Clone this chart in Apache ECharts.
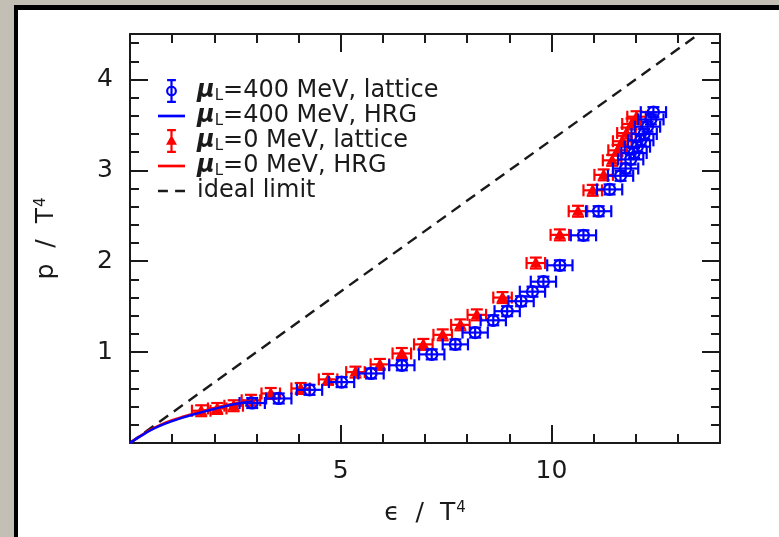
<!DOCTYPE html>
<html><head><meta charset="utf-8">
<script src="https://cdn.jsdelivr.net/npm/echarts@6/dist/echarts.min.js"></script>
<style>
html,body{margin:0;padding:0;background:#c3bfb4;overflow:hidden;}
#panel{position:absolute;left:14px;top:5px;width:780px;height:527px;background:#fff;border-left:4px solid #000;border-top:5px solid #000;border-bottom:2px solid #555;}
#c{position:absolute;left:0;top:0;width:779px;height:537px;}
</style>
</head><body><div id="panel"></div><div id="c"></div>
<script>
// mu_L = 400 MeV lattice
const blueEps = [2.90, 3.53, 4.26, 5.02, 5.72, 6.45, 7.16, 7.72, 8.19, 8.62, 8.95, 9.28, 9.55, 9.81, 10.20, 10.76, 11.12, 11.38, 11.64, 11.76, 11.88, 11.96, 12.04, 12.12, 12.20, 12.28, 12.36, 12.42];
const blueP   = [0.44, 0.49, 0.585, 0.67, 0.765, 0.855, 0.975, 1.085, 1.215, 1.35, 1.45, 1.56, 1.665, 1.775, 1.955, 2.285, 2.55, 2.79, 2.94, 3.02, 3.12, 3.19, 3.26, 3.33, 3.40, 3.48, 3.56, 3.64];
const blueEpsErr = 0.30;
const bluePErr = 0.055;
// mu_L = 0 lattice
const redEps = [1.69, 2.07, 2.46, 2.87, 3.34, 4.05, 4.70, 5.35, 5.93, 6.45, 6.96, 7.42, 7.84, 8.23, 8.84, 9.63, 10.20, 10.63, 10.98, 11.24, 11.44, 11.57, 11.68, 11.78, 11.90, 12.02];
const redP   = [0.355, 0.38, 0.41, 0.47, 0.545, 0.60, 0.70, 0.78, 0.865, 0.985, 1.085, 1.19, 1.30, 1.41, 1.60, 1.98, 2.29, 2.55, 2.78, 2.95, 3.11, 3.22, 3.32, 3.41, 3.51, 3.59];
const redEpsErr = 0.22;
const redPErr = 0.06;
// HRG curves
const hrgEps  = [0, 0.25, 0.5, 0.75, 1.0, 1.25, 1.5, 1.75, 2.0, 2.25, 2.5, 2.75, 2.9];
const blueHrgP = [0, 0.075, 0.143, 0.197, 0.24, 0.279, 0.313, 0.345, 0.375, 0.403, 0.428, 0.448, 0.458];
const redHrgP  = [0, 0.078, 0.149, 0.205, 0.25, 0.289, 0.323, 0.355, 0.385, 0.412, 0.436, 0.455, 0.465];
// ideal limit p = eps/3
const idealEps = [0, 13.5];
const idealP = [0, 4.5];
// ticks
const xTickLabels = [5, 10];
const yTickLabels = [1, 2, 3, 4];

const BLUE = '#0000ff', RED = '#ff0000', INK = '#1a1a1a';
const FONT = 'DejaVu Sans';
const FS = 25;

function errRender(kind, color) {
  return function (params, api) {
    const x = api.value(0), y = api.value(1), ex = api.value(2), ey = api.value(3);
    const c = api.coord([x, y]);
    const l = api.coord([x - ex, y]), r = api.coord([x + ex, y]);
    const t = api.coord([x, y + ey]), b = api.coord([x, y - ey]);
    const cap = 6;
    const st = () => ({ stroke: color, lineWidth: 2.2, fill: null });
    const ch = [
      { type: 'line', shape: { x1: l[0], y1: l[1], x2: r[0], y2: r[1] }, style: st() },
      { type: 'line', shape: { x1: l[0], y1: l[1] - cap, x2: l[0], y2: l[1] + cap }, style: st() },
      { type: 'line', shape: { x1: r[0], y1: r[1] - cap, x2: r[0], y2: r[1] + cap }, style: st() },
      { type: 'line', shape: { x1: t[0], y1: t[1], x2: b[0], y2: b[1] }, style: st() },
      { type: 'line', shape: { x1: t[0] - cap, y1: t[1], x2: t[0] + cap, y2: t[1] }, style: st() },
      { type: 'line', shape: { x1: b[0] - cap, y1: b[1], x2: b[0] + cap, y2: b[1] }, style: st() }
    ];
    if (kind === 'circle') {
      ch.push({ type: 'circle', shape: { cx: c[0], cy: c[1], r: 5.5 }, style: st() });
    } else {
      ch.push({ type: 'polygon', shape: { points: [[c[0], c[1] - 6.5], [c[0] - 6, c[1] + 4.5], [c[0] + 6, c[1] + 4.5]] }, style: { fill: color } });
    }
    return { type: 'group', children: ch };
  };
}

const circIcon = 'path://M4,0 H20 V4 H4 Z M4,40 H20 V44 H4 Z M10,0 H14 V44 H10 Z M22,22 A10,10 0 1 1 2,22 A10,10 0 1 1 22,22 Z M18,22 A6,6 0 1 0 6,22 A6,6 0 1 0 18,22 Z';
const triIcon = 'path://M4,0 H20 V4 H4 Z M4,40 H20 V44 H4 Z M10,0 H14 V44 H10 Z M12,11 L22,29 L2,29 Z';
const lineIcon = 'path://M0,0 H30 V3 H0 Z';
const dashIcon = 'path://M0,0 H11 V3 H0 Z M19,0 H30 V3 H19 Z';

const names = { bl: 'mu400lat', bh: 'mu400hrg', rl: 'mu0lat', rh: 'mu0hrg', id: 'ideal' };
const legendText = {
  mu400lat: '{sp|}{mu|μ}{sub|L}{t|=400 MeV, lattice}',
  mu400hrg: '{sp|}{mu|μ}{sub|L}{t|=400 MeV, HRG}',
  mu0lat: '{sp|}{mu|μ}{sub|L}{t|=0 MeV, lattice}',
  mu0hrg: '{sp|}{mu|μ}{sub|L}{t|=0 MeV, HRG}',
  ideal: '{sp|}{t|ideal limit}'
};

const axisLineStyle = { color: INK, width: 2 };
const gridRect = { left: 130, right: 59, top: 34, bottom: 94 };
const nameRich = {
  e: { fontFamily: FONT, fontSize: FS, color: INK, lineHeight: 28 },
  t: { fontFamily: FONT, fontSize: FS, color: INK, lineHeight: 28 },
  sup: { fontFamily: FONT, fontSize: 15, color: INK, lineHeight: 15, verticalAlign: 'top', padding: [2, 0, 0, 1] }
};

function xAx(gridIndex, pos, major) {
  return {
    type: 'value', gridIndex, position: pos, min: 0, max: 14, interval: major ? 5 : 1,
    axisLine: { show: major, onZero: false, lineStyle: axisLineStyle },
    axisTick: { show: true, inside: true, length: major ? 18 : 9, lineStyle: { color: INK, width: 2 } },
    axisLabel: {
      show: major && pos === 'bottom', margin: 16,
      fontFamily: FONT, fontSize: FS, color: INK,
      formatter: v => (xTickLabels.indexOf(v) >= 0 ? String(v) : '')
    },
    splitLine: { show: false },
    name: (major && pos === 'bottom') ? '{e|ϵ}{t|  /  T}{sup|4}' : '',
    nameLocation: 'middle', nameGap: 56,
    nameTextStyle: { fontFamily: FONT, fontSize: FS, color: INK, rich: nameRich }
  };
}
function yAx(gridIndex, pos, major) {
  return {
    type: 'value', gridIndex, position: pos, min: 0, max: 4.5, interval: major ? 1 : 0.2,
    axisLine: { show: major, onZero: false, lineStyle: axisLineStyle },
    axisTick: { show: true, inside: true, length: major ? 18 : 9, lineStyle: { color: INK, width: 2 } },
    axisLabel: {
      show: major && pos === 'left', margin: 17,
      fontFamily: FONT, fontSize: FS, color: INK,
      formatter: v => (yTickLabels.indexOf(v) >= 0 ? String(v) : '')
    },
    splitLine: { show: false },
    name: (major && pos === 'left') ? '{t|p  /  T}{sup|4}' : '',
    nameLocation: 'middle', nameGap: 70,
    nameTextStyle: { fontFamily: FONT, fontSize: FS, color: INK, rich: nameRich }
  };
}

const chart = echarts.init(document.getElementById('c'), null, { renderer: 'canvas' });
chart.setOption({
  animation: false,
  backgroundColor: 'transparent',
  grid: [Object.assign({}, gridRect), Object.assign({}, gridRect)],
  xAxis: [xAx(0, 'bottom', true), xAx(0, 'top', true), xAx(1, 'bottom', false), xAx(1, 'top', false)],
  yAxis: [yAx(0, 'left', true), yAx(0, 'right', true), yAx(1, 'left', false), yAx(1, 'right', false)],
  legend: {
    orient: 'vertical', left: 158, top: 79, padding: 0, itemGap: 0,
    itemWidth: 27, itemHeight: 24,
    data: [
      { name: names.bl, icon: circIcon },
      { name: names.bh, icon: lineIcon },
      { name: names.rl, icon: triIcon },
      { name: names.rh, icon: lineIcon },
      { name: names.id, icon: dashIcon }
    ],
    formatter: n => legendText[n],
    textStyle: {
      fontFamily: FONT, fontSize: 24, color: INK,
      rich: {
        sp: { width: 7, lineHeight: 26 },
        t: { fontFamily: FONT, fontSize: 24, color: INK, lineHeight: 26 },
        mu: { fontFamily: FONT, fontSize: 24, color: INK, fontStyle: 'italic', fontWeight: 'bold', lineHeight: 26 },
        sub: { fontFamily: FONT, fontSize: 15, color: INK, lineHeight: 12, verticalAlign: 'bottom' }
      }
    }
  },
  series: [
    {
      name: names.id, type: 'line', xAxisIndex: 0, yAxisIndex: 0,
      data: idealEps.map((e, i) => [e, idealP[i]]),
      showSymbol: false, symbol: 'none', clip: true,
      lineStyle: { color: INK, width: 2.4, type: [11, 7] }, itemStyle: { color: INK }
    },
    {
      name: names.rl, type: 'custom', xAxisIndex: 0, yAxisIndex: 0,
      renderItem: errRender('tri', RED), clip: true,
      itemStyle: { color: RED },
      encode: { x: 0, y: 1 },
      data: redEps.map((e, i) => [e, redP[i], redEpsErr, redPErr])
    },
    {
      name: names.rh, type: 'line', xAxisIndex: 0, yAxisIndex: 0, smooth: true,
      data: hrgEps.map((e, i) => [e, redHrgP[i]]),
      showSymbol: false, symbol: 'none',
      lineStyle: { color: RED, width: 2.5 }, itemStyle: { color: RED }
    },
    {
      name: names.bh, type: 'line', xAxisIndex: 0, yAxisIndex: 0, smooth: true,
      data: hrgEps.map((e, i) => [e, blueHrgP[i]]),
      showSymbol: false, symbol: 'none',
      lineStyle: { color: BLUE, width: 2.5 }, itemStyle: { color: BLUE }
    },
    {
      name: names.bl, type: 'custom', xAxisIndex: 0, yAxisIndex: 0,
      renderItem: errRender('circle', BLUE), clip: true,
      itemStyle: { color: BLUE },
      encode: { x: 0, y: 1 },
      data: blueEps.map((e, i) => [e, blueP[i], blueEpsErr, bluePErr])
    }
  ]
});
</script>
</body></html>
